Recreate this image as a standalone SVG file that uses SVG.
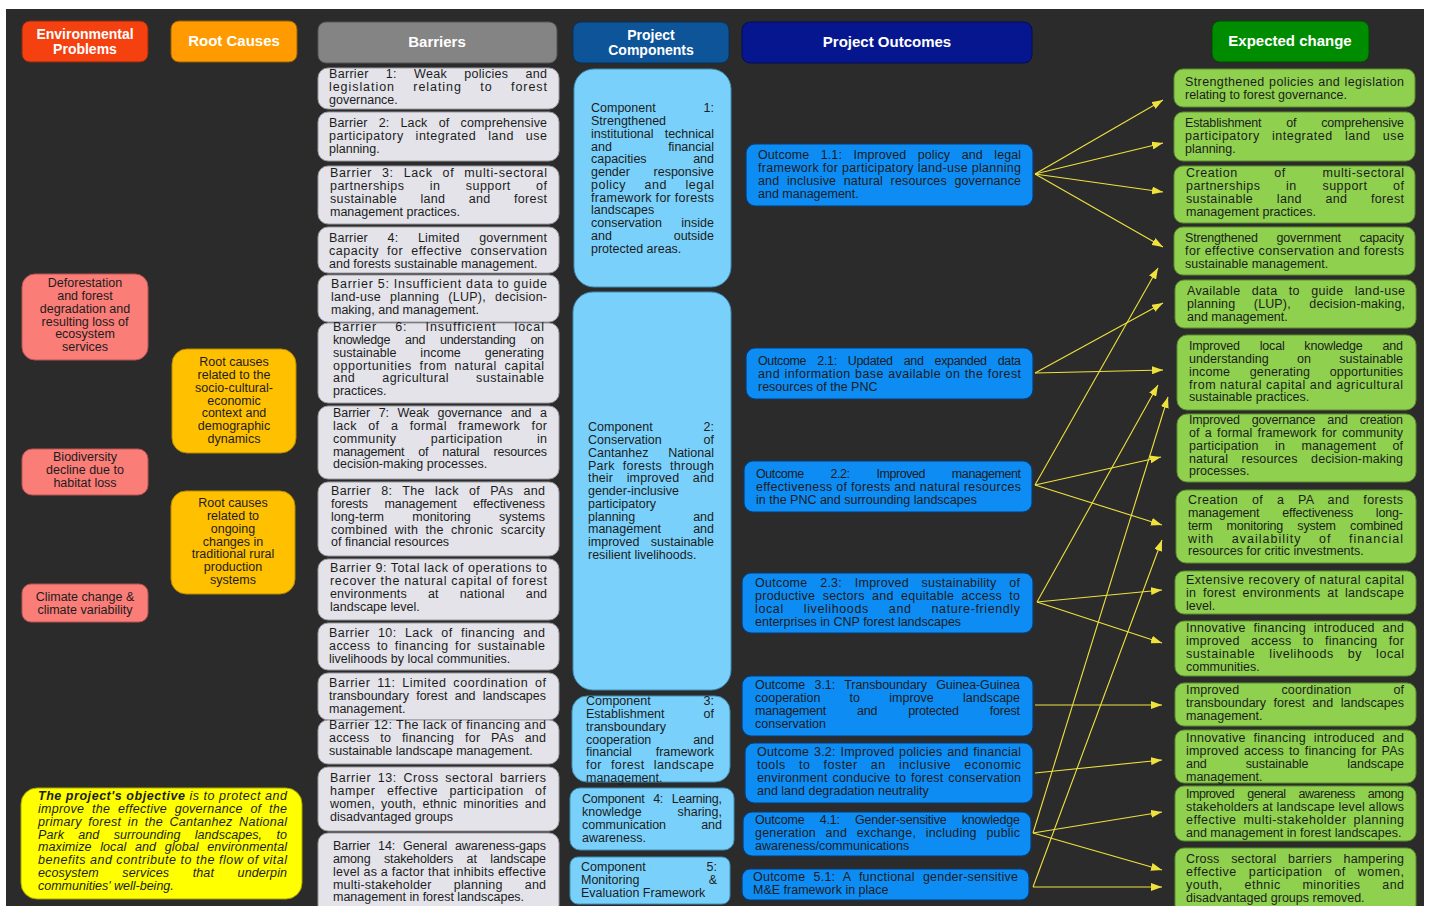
<svg xmlns="http://www.w3.org/2000/svg" width="1429" height="906" viewBox="0 0 1429 906">
<style>
text{font-family:"Liberation Sans",Arial,sans-serif;font-size:12.5px;fill:#1c1c1c}
.h{font-weight:bold;font-size:15px;fill:#fff;text-anchor:middle}
.h2{font-weight:bold;font-size:14px;fill:#fff;text-anchor:middle}
.c{text-anchor:middle}
.e{text-anchor:end}
.i{font-style:italic}
.b{font-weight:bold}
.env{fill:#fa7d78;stroke:#b85450;stroke-width:1}
.root{fill:#ffc000;stroke:#b88a00;stroke-width:1}
.bar{fill:#e3e3e9;stroke:#9a9aa0;stroke-width:1}
.comp{fill:#79d1fb;stroke:#3f8fb8;stroke-width:1}
.out{fill:#0d8df4;stroke:#0b3a75;stroke-width:1.2}
.exp{fill:#8fd04f;stroke:#5b8d2d;stroke-width:1}
.conn{stroke:#efe23d;stroke-width:1.1;fill:none;marker-end:url(#ah)}
</style>
<defs>
<marker id="ah" markerUnits="userSpaceOnUse" markerWidth="11" markerHeight="8" refX="11" refY="4" orient="auto"><path d="M0,0 L11,4 L0,8 z" fill="#efe23d"/></marker>
</defs>
<rect x="0" y="0" width="1429" height="906" fill="#ffffff"/>
<rect x="6" y="9" width="1418" height="897" fill="#2b2b2b"/>

<!-- headers -->
<g id="hdr-env"><rect x="22" y="21" width="126" height="41" rx="8" fill="#f5400f" stroke="#8a2a10"/><text class="h2" x="85" y="38.5">Environmental</text><text class="h2" x="85" y="53.5">Problems</text></g>
<g id="hdr-root"><rect x="171" y="21" width="126" height="41" rx="8" fill="#ff9a00" stroke="#9a6000"/><text class="h" x="234" y="46">Root Causes</text></g>
<g id="hdr-barriers"><rect x="318" y="22" width="239" height="41" rx="8" fill="#848484" stroke="#555"/><text class="h" x="437" y="47">Barriers</text></g>
<g id="hdr-comp"><rect x="573" y="22" width="156" height="41" rx="8" fill="#0d5499" stroke="#08305a"/><text class="h2" x="651" y="39.5">Project</text><text class="h2" x="651" y="54.5">Components</text></g>
<g id="hdr-out"><rect x="742" y="22" width="290" height="41" rx="8" fill="#06168f" stroke="#040c50"/><text class="h" x="887" y="47">Project Outcomes</text></g>
<g id="hdr-exp"><rect x="1212" y="21" width="157" height="41" rx="8" fill="#008c00" stroke="#004d00"/><text class="h" x="1290" y="46">Expected change</text></g>

<!-- environmental problems -->
<g id="env1"><rect class="env" x="22" y="274" width="126" height="86" rx="13"/>
<text class="c" x="85" y="287.4">Deforestation</text><text class="c" x="85" y="300.15">and forest</text><text class="c" x="85" y="312.9">degradation and</text><text class="c" x="85" y="325.65">resulting loss of</text><text class="c" x="85" y="338.4">ecosystem</text><text class="c" x="85" y="351.15">services</text></g>
<g id="env2"><rect class="env" x="22" y="449" width="126" height="46" rx="10"/>
<text class="c" x="85" y="461.4">Biodiversity</text><text class="c" x="85" y="474.15">decline due to</text><text class="c" x="85" y="486.9">habitat loss</text></g>
<g id="env3"><rect class="env" x="22" y="584" width="126" height="38" rx="9"/>
<text class="c" x="85" y="601.4">Climate change &amp;</text><text class="c" x="85" y="614.15">climate variability</text></g>

<!-- root causes -->
<g id="root1"><rect class="root" x="172" y="349" width="124" height="104" rx="15"/>
<text class="c" x="234" y="366.4">Root causes</text><text class="c" x="234" y="379.15">related to the</text><text class="c" x="234" y="391.9">socio-cultural-</text><text class="c" x="234" y="404.65">economic</text><text class="c" x="234" y="417.4">context and</text><text class="c" x="234" y="430.15">demographic</text><text class="c" x="234" y="442.9">dynamics</text></g>
<g id="root2"><rect class="root" x="171" y="491" width="124" height="103" rx="15"/>
<text class="c" x="233" y="507.4">Root causes</text><text class="c" x="233" y="520.15">related to</text><text class="c" x="233" y="532.9">ongoing</text><text class="c" x="233" y="545.65">changes in</text><text class="c" x="233" y="558.4">traditional rural</text><text class="c" x="233" y="571.15">production</text><text class="c" x="233" y="583.9">systems</text></g>

<!-- objective -->
<g id="objective"><rect x="21" y="788" width="281" height="111" rx="16" fill="#ffff00" stroke="#a8a800"/>
<text class="i" x="38" y="800.4" textLength="249" lengthAdjust="spacing"><tspan class="b">The project's objective</tspan> is to protect and</text>
<text class="i" x="38" y="813.15" textLength="249" lengthAdjust="spacing" word-spacing="4">improve the effective governance of the</text>
<text class="i" x="38" y="825.9" textLength="249" lengthAdjust="spacing" word-spacing="2.8">primary forest in the Cantanhez National</text>
<text class="i" x="38" y="838.65" textLength="249" lengthAdjust="spacing" word-spacing="10.8">Park and surrounding landscapes, to</text>
<text class="i" x="38" y="851.4" textLength="249" lengthAdjust="spacing" word-spacing="5">maximize local and global environmental</text>
<text class="i" x="38" y="864.15" textLength="249" lengthAdjust="spacing">benefits and contribute to the flow of vital</text>
<text class="i" x="38" y="876.9" textLength="249" lengthAdjust="spacing" word-spacing="20">ecosystem services that underpin</text>
<text class="i" x="38" y="889.65">communities' well-being.</text></g>

<!-- barriers -->
<g id="b1"><rect class="bar" x="318" y="68" width="241" height="41" rx="10"/>
<text x="329" y="78.4" textLength="218" lengthAdjust="spacing" word-spacing="13.4">Barrier 1: Weak policies and</text>
<text x="329" y="91.15" textLength="218" lengthAdjust="spacing" word-spacing="14">legislation relating to forest</text>
<text x="329" y="103.9">governance.</text></g>
<g id="b2"><rect class="bar" x="318" y="112" width="241" height="49" rx="10"/>
<text x="329" y="127.4" textLength="218" lengthAdjust="spacing" word-spacing="7.5">Barrier 2: Lack of comprehensive</text>
<text x="329" y="140.15" textLength="218" lengthAdjust="spacing" word-spacing="8">participatory integrated land use</text>
<text x="329" y="152.9">planning.</text></g>
<g id="b3"><rect class="bar" x="318" y="166" width="241" height="58" rx="10"/>
<text x="330" y="177.4" textLength="217" lengthAdjust="spacing" word-spacing="5.8">Barrier 3: Lack of multi-sectoral</text>
<text x="330" y="190.15" textLength="217" lengthAdjust="spacing" word-spacing="21.4">partnerships in support of</text>
<text x="330" y="202.9" textLength="217" lengthAdjust="spacing" word-spacing="19.5">sustainable land and forest</text>
<text x="330" y="215.65">management practices.</text></g>
<g id="b4"><rect class="bar" x="318" y="227" width="241" height="46" rx="10"/>
<text x="329" y="242.4" textLength="218" lengthAdjust="spacing" word-spacing="15.9">Barrier 4: Limited government</text>
<text x="329" y="255.15" textLength="218" lengthAdjust="spacing" word-spacing="4.1">capacity for effective conservation</text>
<text x="329" y="267.9">and forests sustainable management.</text></g>
<g id="b5"><rect class="bar" x="318" y="275" width="241" height="47" rx="10"/>
<text x="331" y="288.4" textLength="216" lengthAdjust="spacing">Barrier 5: Insufficient data to guide</text>
<text x="331" y="301.15" textLength="216" lengthAdjust="spacing" word-spacing="5.4">land-use planning (LUP), decision-</text>
<text x="331" y="313.9">making, and management.</text></g>
<g id="b6"><rect class="bar" x="318" y="323" width="241" height="80" rx="10"/>
<text x="333" y="331.4" textLength="211" lengthAdjust="spacing" word-spacing="13.5">Barrier 6: Insufficient local</text>
<text x="333" y="344.15" textLength="211" lengthAdjust="spacing" word-spacing="11.7">knowledge and understanding on</text>
<text x="333" y="356.9" textLength="211" lengthAdjust="spacing" word-spacing="20.3">sustainable income generating</text>
<text x="333" y="369.65" textLength="211" lengthAdjust="spacing" word-spacing="3.7">opportunities from natural capital</text>
<text x="333" y="382.4" textLength="211" lengthAdjust="spacing" word-spacing="23">and agricultural sustainable</text>
<text x="333" y="395.15">practices.</text></g>
<g id="b7"><rect class="bar" x="318" y="406" width="241" height="73" rx="10"/>
<text x="333" y="417.4" textLength="214" lengthAdjust="spacing" word-spacing="5.2">Barrier 7: Weak governance and a</text>
<text x="333" y="430.15" textLength="214" lengthAdjust="spacing" word-spacing="7.6">lack of a formal framework for</text>
<text x="333" y="442.9" textLength="214" lengthAdjust="spacing" word-spacing="30.6">community participation in</text>
<text x="333" y="455.65" textLength="214" lengthAdjust="spacing" word-spacing="10.6">management of natural resources</text>
<text x="333" y="468.4">decision-making processes.</text></g>
<g id="b8"><rect class="bar" x="318" y="482" width="241" height="74" rx="10"/>
<text x="331" y="495.4" textLength="214" lengthAdjust="spacing" word-spacing="6.3">Barrier 8: The lack of PAs and</text>
<text x="331" y="508.15" textLength="214" lengthAdjust="spacing" word-spacing="13">forests management effectiveness</text>
<text x="331" y="520.9" textLength="214" lengthAdjust="spacing" word-spacing="24.7">long-term monitoring systems</text>
<text x="331" y="533.65" textLength="214" lengthAdjust="spacing" word-spacing="3.6">combined with the chronic scarcity</text>
<text x="331" y="546.4">of financial resources</text></g>
<g id="b9"><rect class="bar" x="318" y="559" width="241" height="61" rx="10"/>
<text x="330" y="572.4" textLength="217" lengthAdjust="spacing">Barrier 9: Total lack of operations to</text>
<text x="330" y="585.15" textLength="217" lengthAdjust="spacing">recover the natural capital of forest</text>
<text x="330" y="597.9" textLength="217" lengthAdjust="spacing" word-spacing="17.5">environments at national and</text>
<text x="330" y="610.65">landscape level.</text></g>
<g id="b10"><rect class="bar" x="318" y="623" width="241" height="47" rx="10"/>
<text x="329" y="637.4" textLength="216" lengthAdjust="spacing" word-spacing="4.4">Barrier 10: Lack of financing and</text>
<text x="329" y="650.15" textLength="216" lengthAdjust="spacing" word-spacing="2.6">access to financing for sustainable</text>
<text x="329" y="662.9">livelihoods by local communities.</text></g>
<g id="b11"><rect class="bar" x="318" y="673" width="241" height="47" rx="10"/>
<text x="329" y="687.4" textLength="217" lengthAdjust="spacing" word-spacing="2.8">Barrier 11: Limited coordination of</text>
<text x="329" y="700.15" textLength="217" lengthAdjust="spacing" word-spacing="3.8">transboundary forest and landscapes</text>
<text x="329" y="712.9">management.</text></g>
<g id="b12"><rect class="bar" x="318" y="720" width="241" height="44" rx="10"/>
<text x="329" y="729.4" textLength="217" lengthAdjust="spacing">Barrier 12: The lack of financing and</text>
<text x="329" y="742.15" textLength="217" lengthAdjust="spacing" word-spacing="7">access to financing for PAs and</text>
<text x="329" y="754.9">sustainable landscape management.</text></g>
<g id="b13"><rect class="bar" x="318" y="767" width="241" height="64" rx="10"/>
<text x="330" y="782.4" textLength="216" lengthAdjust="spacing" word-spacing="2.6">Barrier 13: Cross sectoral barriers</text>
<text x="330" y="795.15" textLength="216" lengthAdjust="spacing" word-spacing="7.4">hamper effective participation of</text>
<text x="330" y="807.9" textLength="216" lengthAdjust="spacing" word-spacing="2.6">women, youth, ethnic minorities and</text>
<text x="330" y="820.65">disadvantaged groups</text></g>
<g id="b14"><rect class="bar" x="318" y="833" width="241" height="82" rx="10"/>
<text x="333" y="850.4" textLength="213" lengthAdjust="spacing" word-spacing="4.4">Barrier 14: General awareness-gaps</text>
<text x="333" y="863.15" textLength="213" lengthAdjust="spacing" word-spacing="10.3">among stakeholders at landscape</text>
<text x="333" y="875.9" textLength="213" lengthAdjust="spacing">level as a factor that inhibits effective</text>
<text x="333" y="888.65" textLength="213" lengthAdjust="spacing" word-spacing="18.5">multi-stakeholder planning and</text>
<text x="333" y="901.4">management in forest landscapes.</text></g>

<!-- components -->
<g id="c1"><rect class="comp" x="574" y="69" width="157" height="218" rx="20"/>
<text x="591" y="112.4">Component</text><text class="e" x="714" y="112.4">1:</text>
<text x="591" y="125.15">Strengthened</text>
<text x="591" y="137.9">institutional</text><text class="e" x="714" y="137.9">technical</text>
<text x="591" y="150.65">and</text><text class="e" x="714" y="150.65">financial</text>
<text x="591" y="163.4">capacities</text><text class="e" x="714" y="163.4">and</text>
<text x="591" y="176.15">gender</text><text class="e" x="714" y="176.15">responsive</text>
<text x="591" y="188.9" textLength="123" lengthAdjust="spacing" word-spacing="14.5">policy and legal</text>
<text x="591" y="201.65" textLength="123" lengthAdjust="spacing">framework for forests</text>
<text x="591" y="214.4">landscapes</text>
<text x="591" y="227.15">conservation</text><text class="e" x="714" y="227.15">inside</text>
<text x="591" y="239.9">and</text><text class="e" x="714" y="239.9">outside</text>
<text x="591" y="252.65">protected areas.</text></g>
<g id="c2"><rect class="comp" x="573" y="292" width="158" height="398" rx="20"/>
<text x="588" y="431.4">Component</text><text class="e" x="714" y="431.4">2:</text>
<text x="588" y="444.15">Conservation</text><text class="e" x="714" y="444.15">of</text>
<text x="588" y="456.9">Cantanhez</text><text class="e" x="714" y="456.9">National</text>
<text x="588" y="469.65" textLength="126" lengthAdjust="spacing" word-spacing="4.2">Park forests through</text>
<text x="588" y="482.4" textLength="126" lengthAdjust="spacing" word-spacing="10">their improved and</text>
<text x="588" y="495.15">gender-inclusive</text>
<text x="588" y="507.9">participatory</text>
<text x="588" y="520.65">planning</text><text class="e" x="714" y="520.65">and</text>
<text x="588" y="533.4">management</text><text class="e" x="714" y="533.4">and</text>
<text x="588" y="546.15">improved</text><text class="e" x="714" y="546.15">sustainable</text>
<text x="588" y="558.9">resilient livelihoods.</text></g>
<g id="c3"><rect class="comp" x="572" y="696" width="158" height="86" rx="15"/>
<text x="586" y="705.4">Component</text><text class="e" x="714" y="705.4">3:</text>
<text x="586" y="718.15">Establishment</text><text class="e" x="714" y="718.15">of</text>
<text x="586" y="730.9">transboundary</text>
<text x="586" y="743.65">cooperation</text><text class="e" x="714" y="743.65">and</text>
<text x="586" y="756.4">financial</text><text class="e" x="714" y="756.4">framework</text>
<text x="586" y="769.15" textLength="128" lengthAdjust="spacing" word-spacing="5.2">for forest landscape</text>
<text x="586" y="781.9">management.</text></g>
<g id="c4"><rect class="comp" x="570" y="788" width="164" height="62" rx="10"/>
<text x="582" y="803.4" textLength="140" lengthAdjust="spacing" word-spacing="5.5">Component 4: Learning,</text>
<text x="582" y="816.15">knowledge</text><text class="e" x="722" y="816.15">sharing,</text>
<text x="582" y="828.9">communication</text><text class="e" x="722" y="828.9">and</text>
<text x="582" y="841.65">awareness.</text></g>
<g id="c5"><rect class="comp" x="570" y="857" width="160" height="47" rx="8"/>
<text x="581" y="871.4">Component</text><text class="e" x="717" y="871.4">5:</text>
<text x="581" y="884.15">Monitoring</text><text class="e" x="717" y="884.15">&amp;</text>
<text x="581" y="896.9">Evaluation Framework</text></g>

<!-- outcomes -->
<g id="o11"><rect class="out" x="746" y="144" width="287" height="62" rx="9"/>
<text x="758" y="159.4" textLength="263" lengthAdjust="spacing" word-spacing="8">Outcome 1.1: Improved policy and legal</text>
<text x="758" y="172.15" textLength="263" lengthAdjust="spacing">framework for participatory land-use planning</text>
<text x="758" y="184.9" textLength="263" lengthAdjust="spacing" word-spacing="4">and inclusive natural resources governance</text>
<text x="758" y="197.65">and management.</text></g>
<g id="o21"><rect class="out" x="746" y="348" width="287" height="51" rx="9"/>
<text x="758" y="365.4" textLength="263" lengthAdjust="spacing" word-spacing="8">Outcome 2.1: Updated and expanded data</text>
<text x="758" y="378.15" textLength="263" lengthAdjust="spacing" word-spacing="0.7">and information base available on the forest</text>
<text x="758" y="390.9">resources of the PNC</text></g>
<g id="o22"><rect class="out" x="744" y="461" width="288" height="51" rx="9"/>
<text x="756" y="478.4" textLength="265" lengthAdjust="spacing" word-spacing="23.7">Outcome 2.2: Improved management</text>
<text x="756" y="491.15" textLength="265" lengthAdjust="spacing">effectiveness of forests and natural resources</text>
<text x="756" y="503.9">in the PNC and surrounding landscapes</text></g>
<g id="o23"><rect class="out" x="742" y="573" width="291" height="60" rx="9"/>
<text x="755" y="587.4" textLength="265" lengthAdjust="spacing" word-spacing="9">Outcome 2.3: Improved sustainability of</text>
<text x="755" y="600.15" textLength="265" lengthAdjust="spacing" word-spacing="3.6">productive sectors and equitable access to</text>
<text x="755" y="612.9" textLength="265" lengthAdjust="spacing" word-spacing="15.9">local livelihoods and nature-friendly</text>
<text x="755" y="625.65">enterprises in CNP forest landscapes</text></g>
<g id="o31"><rect class="out" x="742" y="676" width="291" height="60" rx="9"/>
<text x="755" y="689.4" textLength="265" lengthAdjust="spacing" word-spacing="6">Outcome 3.1: Transboundary Guinea-Guinea</text>
<text x="755" y="702.15" textLength="265" lengthAdjust="spacing" word-spacing="25.7">cooperation to improve landscape</text>
<text x="755" y="714.9" textLength="265" lengthAdjust="spacing" word-spacing="27.6">management and protected forest</text>
<text x="755" y="727.65">conservation</text></g>
<g id="o32"><rect class="out" x="745" y="743" width="288" height="60" rx="9"/>
<text x="757" y="756.4" textLength="264" lengthAdjust="spacing" word-spacing="1">Outcome 3.2: Improved policies and financial</text>
<text x="757" y="769.15" textLength="264" lengthAdjust="spacing" word-spacing="9.3">tools to foster an inclusive economic</text>
<text x="757" y="781.9" textLength="264" lengthAdjust="spacing" word-spacing="1.4">environment conducive to forest conservation</text>
<text x="757" y="794.65">and land degradation neutrality</text></g>
<g id="o41"><rect class="out" x="743" y="812" width="288" height="44" rx="9"/>
<text x="755" y="824.4" textLength="265" lengthAdjust="spacing" word-spacing="12">Outcome 4.1: Gender-sensitive knowledge</text>
<text x="755" y="837.15" textLength="265" lengthAdjust="spacing" word-spacing="6">generation and exchange, including public</text>
<text x="755" y="849.9">awareness/communications</text></g>
<g id="o51"><rect class="out" x="742" y="869" width="287" height="31" rx="8"/>
<text x="753" y="881.4" textLength="265" lengthAdjust="spacing" word-spacing="4.5">Outcome 5.1: A functional gender-sensitive</text>
<text x="753" y="894.15">M&amp;E framework in place</text></g>

<!-- expected change -->
<g id="e1"><rect class="exp" x="1174" y="69" width="241" height="38" rx="9"/>
<text x="1185" y="86.4" textLength="219" lengthAdjust="spacing" word-spacing="0.5">Strengthened policies and legislation</text>
<text x="1185" y="99.15">relating to forest governance.</text></g>
<g id="e2"><rect class="exp" x="1174" y="112" width="241" height="49" rx="9"/>
<text x="1185" y="127.4" textLength="219" lengthAdjust="spacing" word-spacing="21.5">Establishment of comprehensive</text>
<text x="1185" y="140.15" textLength="219" lengthAdjust="spacing" word-spacing="8.3">participatory integrated land use</text>
<text x="1185" y="152.9">planning.</text></g>
<g id="e3"><rect class="exp" x="1174" y="166" width="241" height="57" rx="9"/>
<text x="1186" y="177.4" textLength="218" lengthAdjust="spacing" word-spacing="32.6">Creation of multi-sectoral</text>
<text x="1186" y="190.15" textLength="218" lengthAdjust="spacing" word-spacing="21.7">partnerships in support of</text>
<text x="1186" y="202.9" textLength="218" lengthAdjust="spacing" word-spacing="19.8">sustainable land and forest</text>
<text x="1186" y="215.65">management practices.</text></g>
<g id="e4"><rect class="exp" x="1174" y="227" width="241" height="48" rx="9"/>
<text x="1185" y="242.4" textLength="219" lengthAdjust="spacing" word-spacing="15.5">Strengthened government capacity</text>
<text x="1185" y="255.15" textLength="219" lengthAdjust="spacing">for effective conservation and forests</text>
<text x="1185" y="267.9">sustainable management.</text></g>
<g id="e5"><rect class="exp" x="1175" y="280" width="241" height="48" rx="9"/>
<text x="1187" y="295.4" textLength="218" lengthAdjust="spacing" word-spacing="7.5">Available data to guide land-use</text>
<text x="1187" y="308.15" textLength="218" lengthAdjust="spacing" word-spacing="15">planning (LUP), decision-making,</text>
<text x="1187" y="320.9">and management.</text></g>
<g id="e6"><rect class="exp" x="1177" y="335" width="239" height="75" rx="10"/>
<text x="1189" y="350.4" textLength="214" lengthAdjust="spacing" word-spacing="16.5">Improved local knowledge and</text>
<text x="1189" y="363.15" textLength="214" lengthAdjust="spacing" word-spacing="24.7">understanding on sustainable</text>
<text x="1189" y="375.9" textLength="214" lengthAdjust="spacing" word-spacing="16">income generating opportunities</text>
<text x="1189" y="388.65" textLength="214" lengthAdjust="spacing">from natural capital and agricultural</text>
<text x="1189" y="401.4">sustainable practices.</text></g>
<g id="e7"><rect class="exp" x="1177" y="414" width="239" height="68" rx="10"/>
<text x="1189" y="424.4" textLength="214" lengthAdjust="spacing" word-spacing="8.7">Improved governance and creation</text>
<text x="1189" y="437.15" textLength="214" lengthAdjust="spacing" word-spacing="1.7">of a formal framework for community</text>
<text x="1189" y="449.9" textLength="214" lengthAdjust="spacing" word-spacing="12.7">participation in management of</text>
<text x="1189" y="462.65" textLength="214" lengthAdjust="spacing" word-spacing="10">natural resources decision-making</text>
<text x="1189" y="475.4">processes.</text></g>
<g id="e8"><rect class="exp" x="1176" y="490" width="240" height="73" rx="10"/>
<text x="1188" y="504.4" textLength="215" lengthAdjust="spacing" word-spacing="10">Creation of a PA and forests</text>
<text x="1188" y="517.15" textLength="215" lengthAdjust="spacing" word-spacing="19.5">management effectiveness long-</text>
<text x="1188" y="529.9" textLength="215" lengthAdjust="spacing" word-spacing="11">term monitoring system combined</text>
<text x="1188" y="542.65" textLength="215" lengthAdjust="spacing" word-spacing="13">with availability of financial</text>
<text x="1188" y="555.4">resources for critic investments.</text></g>
<g id="e9"><rect class="exp" x="1175" y="571" width="241" height="43" rx="9"/>
<text x="1186" y="584.4" textLength="218" lengthAdjust="spacing">Extensive recovery of natural capital</text>
<text x="1186" y="597.15" textLength="218" lengthAdjust="spacing" word-spacing="3">in forest environments at landscape</text>
<text x="1186" y="609.9">level.</text></g>
<g id="e10"><rect class="exp" x="1175" y="621" width="241" height="55" rx="9"/>
<text x="1186" y="632.4" textLength="218" lengthAdjust="spacing" word-spacing="4">Innovative financing introduced and</text>
<text x="1186" y="645.15" textLength="218" lengthAdjust="spacing" word-spacing="7.5">improved access to financing for</text>
<text x="1186" y="657.9" textLength="218" lengthAdjust="spacing" word-spacing="10">sustainable livelihoods by local</text>
<text x="1186" y="670.65">communities.</text></g>
<g id="e11"><rect class="exp" x="1175" y="683" width="241" height="43" rx="9"/>
<text x="1186" y="694.4" textLength="218" lengthAdjust="spacing" word-spacing="38.5">Improved coordination of</text>
<text x="1186" y="707.15" textLength="218" lengthAdjust="spacing" word-spacing="4">transboundary forest and landscapes</text>
<text x="1186" y="719.9">management.</text></g>
<g id="e12"><rect class="exp" x="1175" y="730" width="241" height="53" rx="9"/>
<text x="1186" y="742.4" textLength="218" lengthAdjust="spacing" word-spacing="4">Innovative financing introduced and</text>
<text x="1186" y="755.15" textLength="218" lengthAdjust="spacing" word-spacing="1.3">improved access to financing for PAs</text>
<text x="1186" y="767.9" textLength="218" lengthAdjust="spacing" word-spacing="35.5">and sustainable landscape</text>
<text x="1186" y="780.65">management.</text></g>
<g id="e13"><rect class="exp" x="1175" y="786" width="241" height="55" rx="9"/>
<text x="1186" y="798.4" textLength="218" lengthAdjust="spacing" word-spacing="10">Improved general awareness among</text>
<text x="1186" y="811.15" textLength="218" lengthAdjust="spacing">stakeholders at landscape level allows</text>
<text x="1186" y="823.9" textLength="218" lengthAdjust="spacing" word-spacing="3">effective multi-stakeholder planning</text>
<text x="1186" y="836.65">and management in forest landscapes.</text></g>
<g id="e14"><rect class="exp" x="1175" y="848" width="241" height="66" rx="9"/>
<text x="1186" y="863.4" textLength="218" lengthAdjust="spacing" word-spacing="8">Cross sectoral barriers hampering</text>
<text x="1186" y="876.15" textLength="218" lengthAdjust="spacing" word-spacing="8">effective participation of women,</text>
<text x="1186" y="888.9" textLength="218" lengthAdjust="spacing" word-spacing="17.8">youth, ethnic minorities and</text>
<text x="1186" y="901.65">disadvantaged groups removed.</text></g>

<!-- connectors -->
<g id="connectors">
<path class="conn" d="M1035,174 L1163,100"/>
<path class="conn" d="M1035,174 L1163,143"/>
<path class="conn" d="M1035,174 L1163,192"/>
<path class="conn" d="M1035,174 L1163,247"/>
<path class="conn" d="M1035,373 L1163,303"/>
<path class="conn" d="M1035,373 L1163,370"/>
<path class="conn" d="M1035,485 L1158,268"/>
<path class="conn" d="M1035,485 L1161,457"/>
<path class="conn" d="M1035,485 L1162,525"/>
<path class="conn" d="M1037,602 L1158,385"/>
<path class="conn" d="M1037,602 L1162,590"/>
<path class="conn" d="M1037,602 L1162,643"/>
<path class="conn" d="M1035,705 L1162,705"/>
<path class="conn" d="M1035,773 L1162,760"/>
<path class="conn" d="M1033,833 L1168,397"/>
<path class="conn" d="M1033,833 L1162,812"/>
<path class="conn" d="M1033,833 L1162,870"/>
<path class="conn" d="M1033,887 L1162,540"/>
<path class="conn" d="M1033,887 L1162,887"/>
</g>
</svg>
